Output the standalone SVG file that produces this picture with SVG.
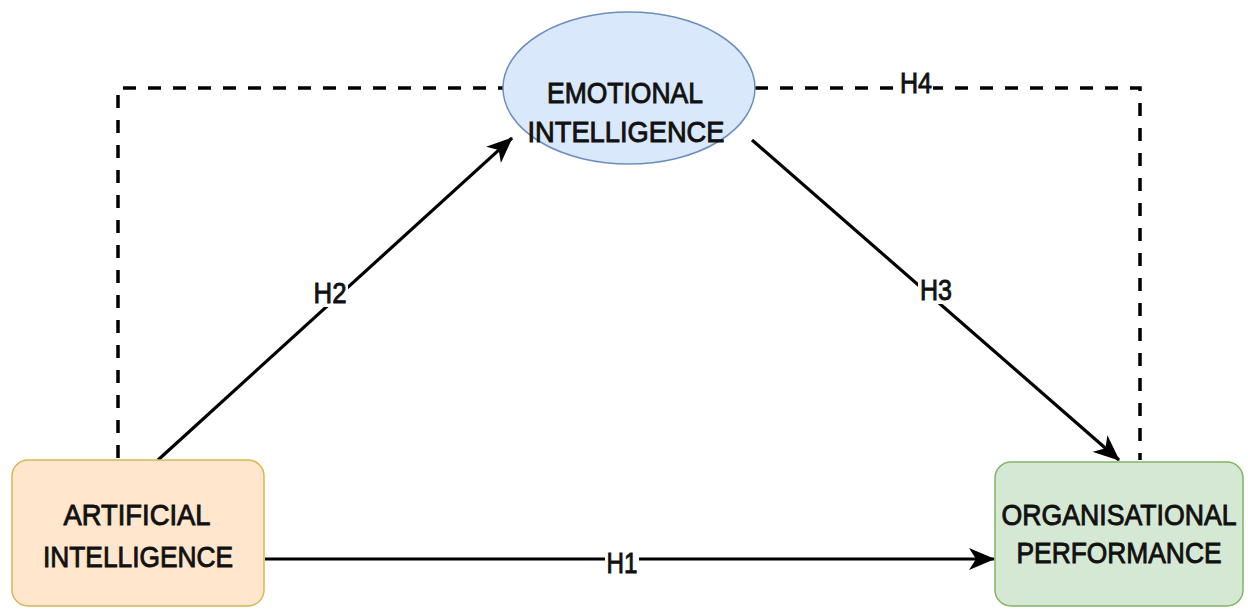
<svg xmlns="http://www.w3.org/2000/svg" width="1248" height="609" viewBox="0 0 1248 609">
<defs>
<style>
.t{font-family:"Liberation Sans",Arial,sans-serif;font-size:29px;fill:#111;stroke:#111;stroke-width:0.9;text-anchor:middle}
.c{stroke:#000;stroke-width:3.2;fill:none}
.d{stroke:#000;stroke-width:3.5;fill:none;stroke-dasharray:13 12}
</style>
<marker id="ah" viewBox="0 0 26 22" refX="25" refY="11" markerWidth="26" markerHeight="22" markerUnits="userSpaceOnUse" orient="auto">
<path d="M0,0 L26,11 L0,22 L7,11 Z" fill="#000"/>
</marker>
</defs>
<rect width="1248" height="609" fill="#fff"/>
<g id="connectors">
<path class="d" d="M118,458 V88 H503"/>
<path class="d" d="M755,88 H1140 V460"/>
<line class="c" x1="158" y1="460" x2="512" y2="138" marker-end="url(#ah)"/>
<line class="c" x1="752" y1="140" x2="1119" y2="460" marker-end="url(#ah)"/>
<line class="c" x1="265" y1="559" x2="994" y2="559" marker-end="url(#ah)"/>
<rect x="312" y="279" width="36" height="28" fill="#fff"/>
<text class="t" x="330" y="303" textLength="33" lengthAdjust="spacingAndGlyphs">H2</text>
<rect x="918" y="276" width="36" height="28" fill="#fff"/>
<text class="t" x="936" y="300" textLength="32" lengthAdjust="spacingAndGlyphs">H3</text>
<rect x="899" y="70" width="34" height="28" fill="#fff"/>
<text class="t" x="916" y="93" textLength="32" lengthAdjust="spacingAndGlyphs">H4</text>
<rect x="605" y="546" width="34" height="28" fill="#fff"/>
<text class="t" x="622" y="573" textLength="31" lengthAdjust="spacingAndGlyphs">H1</text>
</g>
<g id="ai">
<rect x="12" y="460" width="252" height="146" rx="16" fill="#FFE6CC" stroke="#D6B656" stroke-width="1.5"/>
<text class="t" x="137" y="525" textLength="147" lengthAdjust="spacingAndGlyphs">ARTIFICIAL</text>
<text class="t" x="138" y="567" textLength="190" lengthAdjust="spacingAndGlyphs">INTELLIGENCE</text>
</g>
<g id="ei">
<ellipse cx="629" cy="88" rx="126" ry="76" fill="#DAE8FC" stroke="#6C8EBF" stroke-width="1.5"/>
<text class="t" x="625" y="103" font-size="31" textLength="156" lengthAdjust="spacingAndGlyphs">EMOTIONAL</text>
<text class="t" x="626" y="142" font-size="31" textLength="197" lengthAdjust="spacingAndGlyphs">INTELLIGENCE</text>
</g>
<g id="op">
<rect x="995" y="462" width="248" height="144" rx="16" fill="#D5E8D4" stroke="#82B366" stroke-width="1.5"/>
<text class="t" transform="translate(1119,525) scale(0.92,1)" x="0" y="0">ORGANISATIONAL</text>
<text class="t" x="1119" y="563" textLength="205" lengthAdjust="spacingAndGlyphs">PERFORMANCE</text>
</g>
</svg>
